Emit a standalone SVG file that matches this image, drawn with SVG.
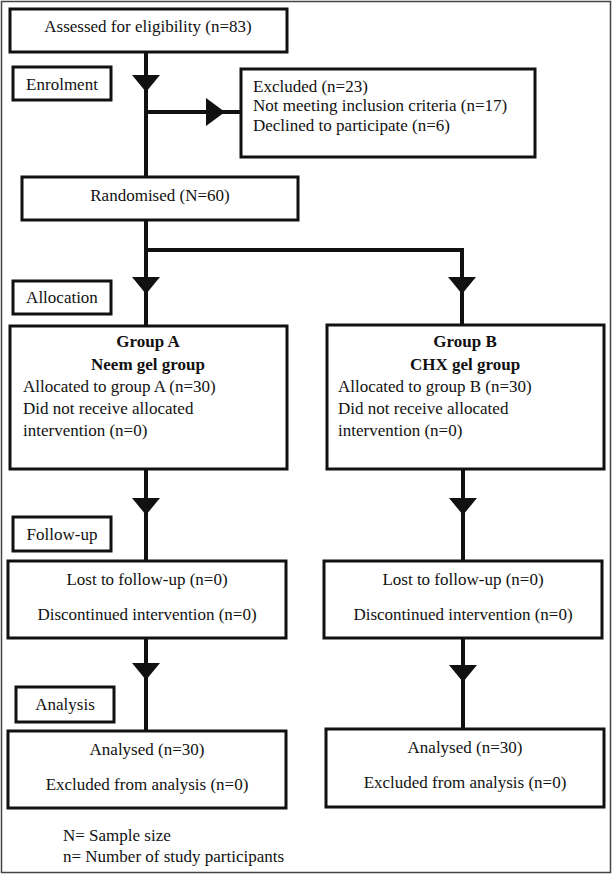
<svg xmlns="http://www.w3.org/2000/svg" width="614" height="875" viewBox="0 0 614 875">
<style>
text{font-family:"Liberation Serif","Times New Roman",serif;font-size:17px;fill:#111}
.c{text-anchor:middle}
.b{font-weight:bold}
.box{fill:#fff;stroke:#111;stroke-width:3}
.ln{stroke:#111;stroke-width:4;fill:none}
.ah{fill:#111}
</style>
<rect x="1.5" y="1.5" width="609" height="871" fill="#fff" stroke="#444" stroke-width="1.5"/>
<g id="connectors">
<path class="ln" d="M146 52 V177"/>
<path class="ln" d="M146 112 H240"/>
<polygon class="ah" points="206,98 206,126 225,112"/>
<polygon class="ah" points="132,75 160,75 146,92"/>
<path class="ln" d="M146 220 V250 H462 V325"/>
<path class="ln" d="M146 250 V326"/>
<polygon class="ah" points="132,277 160,277 146,294"/>
<polygon class="ah" points="448,277 476,277 462,294"/>
<path class="ln" d="M146 469 V561"/>
<path class="ln" d="M463 469 V561"/>
<polygon class="ah" points="132,498 160,498 146,515"/>
<polygon class="ah" points="449,498 477,498 463,515"/>
<path class="ln" d="M146 638 V731"/>
<path class="ln" d="M463 638 V729"/>
<polygon class="ah" points="132,663 160,663 146,680"/>
<polygon class="ah" points="449,665 477,665 463,682"/>
</g>
<g id="assessed"><rect class="box" x="10" y="9" width="277" height="43"/><text class="c" x="148" y="32">Assessed for eligibility (n=83)</text></g>
<g id="enrolment"><rect class="box" x="13" y="67" width="98" height="33"/><text class="c" x="62" y="90">Enrolment</text></g>
<g id="excluded"><rect class="box" x="241" y="69" width="294" height="88"/>
<text x="253" y="92">Excluded (n=23)</text>
<text x="253" y="111">Not meeting inclusion criteria (n=17)</text>
<text x="253" y="131">Declined to participate (n=6)</text></g>
<g id="randomised"><rect class="box" x="22" y="177" width="276" height="43"/><text class="c" x="160" y="201">Randomised (N=60)</text></g>
<g id="allocation"><rect class="box" x="13" y="281" width="98" height="33"/><text class="c" x="62" y="303">Allocation</text></g>
<g id="groupA"><rect class="box" x="10" y="326" width="277" height="143"/>
<text class="c b" x="148" y="347">Group A</text>
<text class="c b" x="148" y="370">Neem gel group</text>
<text x="23" y="392">Allocated to group A (n=30)</text>
<text x="23" y="414">Did not receive allocated</text>
<text x="23" y="436">intervention (n=0)</text></g>
<g id="groupB"><rect class="box" x="327" y="325" width="277" height="144"/>
<text class="c b" x="465" y="347">Group B</text>
<text class="c b" x="465" y="370">CHX gel group</text>
<text x="338" y="392">Allocated to group B (n=30)</text>
<text x="338" y="414">Did not receive allocated</text>
<text x="338" y="436">intervention (n=0)</text></g>
<g id="followup"><rect class="box" x="13" y="517" width="98" height="34"/><text class="c" x="62" y="540">Follow-up</text></g>
<g id="followA"><rect class="box" x="8" y="561" width="278" height="77"/>
<text class="c" x="147" y="585">Lost to follow-up (n=0)</text>
<text class="c" x="147" y="620">Discontinued intervention (n=0)</text></g>
<g id="followB"><rect class="box" x="324" y="561" width="278" height="77"/>
<text class="c" x="463" y="585">Lost to follow-up (n=0)</text>
<text class="c" x="463" y="620">Discontinued intervention (n=0)</text></g>
<g id="analysis"><rect class="box" x="16" y="687" width="98" height="35"/><text class="c" x="65" y="710">Analysis</text></g>
<g id="analysisA"><rect class="box" x="8" y="731" width="278" height="77"/>
<text class="c" x="147" y="755">Analysed (n=30)</text>
<text class="c" x="147" y="790">Excluded from analysis (n=0)</text></g>
<g id="analysisB"><rect class="box" x="326" y="729" width="278" height="78"/>
<text class="c" x="465" y="753">Analysed (n=30)</text>
<text class="c" x="465" y="788">Excluded from analysis (n=0)</text></g>
<g id="legend">
<text x="63" y="841">N= Sample size</text>
<text x="63" y="862">n= Number of study participants</text></g>
</svg>
